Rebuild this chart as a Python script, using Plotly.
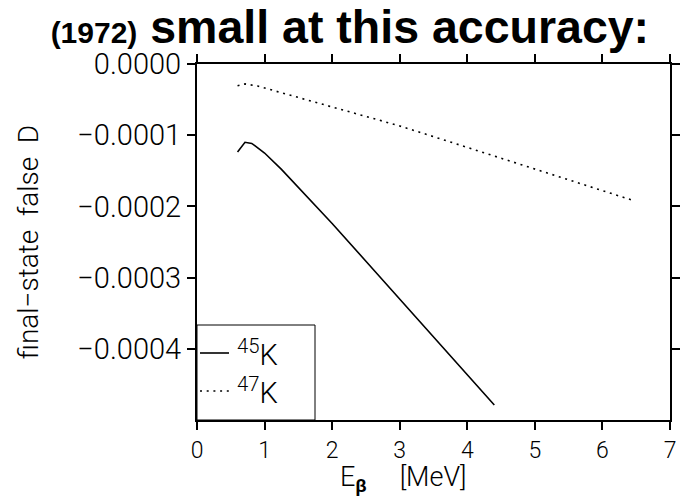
import plotly.graph_objects as go

# Beta energy [MeV] and final-state false D for the two potassium isotopes
e_k45 = [0.6, 0.71, 0.81, 1.0, 1.25, 1.5, 2.0, 2.5, 3.0, 3.5, 4.0, 4.4]
d_k45 = [-1.235e-4, -1.10e-4, -1.115e-4, -1.25e-4, -1.48e-4, -1.735e-4,
         -2.24e-4, -2.77e-4, -3.30e-4, -3.83e-4, -4.36e-4, -4.79e-4]

e_k47 = [0.6, 0.71, 0.9, 1.2, 1.6, 2.0, 2.5, 3.0, 3.5, 4.0, 4.5, 5.0, 5.5, 6.0, 6.45]
d_k47 = [-3.05e-5, -2.8e-5, -3.1e-5, -3.9e-5, -5.0e-5, -6.0e-5, -7.3e-5, -8.7e-5,
         -1.02e-4, -1.17e-4, -1.32e-4, -1.47e-4, -1.62e-4, -1.77e-4, -1.915e-4]

x_ticks = [0, 1, 2, 3, 4, 5, 6, 7]
y_ticks = [0.0, -1e-4, -2e-4, -3e-4, -4e-4]
y_ticktext = ["0.0000", "\u22120.0001", "\u22120.0002", "\u22120.0003", "\u22120.0004"]

W, H = 682, 496
ML, MR, MT, MB = 197, 12, 64, 76
PW, PH = W - ML - MR, H - MT - MB

LABEL_FONT = "Roboto"
LIGHT = 300
NB = "&nbsp;"

fig = go.Figure()
fig.add_trace(go.Scatter(x=e_k45, y=d_k45, mode="lines", name="45K",
                         line=dict(color="black", width=1.6), showlegend=False))
fig.add_trace(go.Scatter(x=e_k47, y=d_k47, mode="lines", name="47K",
                         line=dict(color="black", width=1.6, dash="2px,4.7px"),
                         showlegend=False))

axis_common = dict(showline=True, linecolor="black", linewidth=2, mirror="ticks",
                   ticks="outside", ticklen=8, tickwidth=2, tickcolor="black",
                   showgrid=False, zeroline=False, automargin=False)

fig.update_xaxes(range=[0, 7], tickvals=x_ticks, ticktext=[str(v) for v in x_ticks],
                 tickfont=dict(family=LABEL_FONT, size=23, color="black", weight=LIGHT),
                 **axis_common)
fig.update_yaxes(range=[-5e-4, 0], tickvals=y_ticks, ticktext=y_ticktext,
                 tickfont=dict(family=LABEL_FONT, size=29, color="black", weight=LIGHT),
                 title=dict(text="final\u2212state" + NB * 2 + "false" + NB * 2 + "D",
                            font=dict(family=LABEL_FONT, size=28, color="black", weight=LIGHT),
                            standoff=30),
                 **axis_common)


def px_x(p):
    return (p - ML) / PW


def px_y(p):
    return (H - MB - p) / PH


# x-axis title placed below the tick labels
fig.add_annotation(xref="paper", yref="paper", x=px_x(338), y=px_y(459),
                   xanchor="left", yanchor="top", showarrow=False,
                   text="E<sub><b>\u03b2</b></sub>" + NB * 5 + "[MeV]",
                   font=dict(family=LABEL_FONT, size=27, color="black", weight=LIGHT))

# Legend box drawn in the lower-left corner of the plot area
box_right, box_top = px_x(315), px_y(325)
fig.add_shape(type="rect", xref="paper", yref="paper", x0=0, x1=box_right, y0=0, y1=box_top,
              line=dict(color="black", width=1), fillcolor="rgba(0,0,0,0)")
legend_rows = [("<sup>45</sup>K", None, px_y(353)), ("<sup>47</sup>K", "2px,4.7px", px_y(391))]
for label, dash, yy in legend_rows:
    fig.add_shape(type="line", xref="paper", yref="paper", x0=px_x(200), x1=px_x(229),
                  y0=yy, y1=yy, line=dict(color="black", width=1.6, dash=dash or "solid"))
    fig.add_annotation(xref="paper", yref="paper", x=px_x(235), y=yy, xanchor="left",
                       yanchor="middle", showarrow=False, text=label,
                       font=dict(family=LABEL_FONT, size=29, color="black", weight=LIGHT))

fig.update_layout(
    width=W, height=H,
    margin=dict(l=ML, r=MR, t=MT, b=MB, autoexpand=False),
    paper_bgcolor="white", plot_bgcolor="white",
    title=dict(text="<span style='font-size:30px'>(1972)</span> small at this accuracy:",
               font=dict(family="Liberation Sans", size=46.5, color="black", weight="bold"),
               xref="container", x=0.513, xanchor="center",
               yref="container", y=1 - 10 / H, yanchor="top"),
)

fig.write_html("out.html")
